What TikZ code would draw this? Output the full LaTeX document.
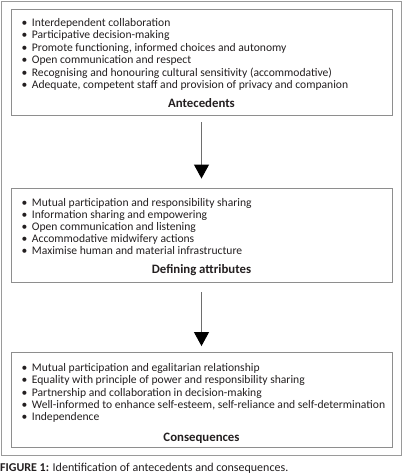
\documentclass[tikz,border=0pt]{standalone}
\usepackage{fontspec}
\setmainfont{Carlito}
\usetikzlibrary{arrows.meta}
\definecolor{framegray}{HTML}{9A9A9A}
\definecolor{boxgray}{HTML}{8E8E8E}
\definecolor{arrowgray}{HTML}{6E6E6E}
\definecolor{txt}{HTML}{231F20}
\begin{document}
\begin{tikzpicture}[x=1pt,y=-1pt,
  frame/.style={draw=framegray,line width=1pt},
  box/.style={draw=boxgray,line width=0.9pt,minimum width=381pt,inner sep=0pt},
  item/.style={anchor=base west,inner sep=0pt,text=txt,font=\fontsize{11.6}{13}\selectfont},
  head/.style={anchor=base,inner sep=0pt,text=txt,font=\fontsize{12.8}{14}\selectfont\bfseries},
  flow/.style={draw=arrowgray,line width=0.9pt,-{Triangle[width=15pt,length=14pt,color=black,fill=black]}}
]
\useasboundingbox (0,0) rectangle (403,476);
\draw[frame] (1.5,1.5) rectangle (401.5,455.5);
\node[box,minimum height=106pt] (b1) at (201.5,62) {};
\node[box,minimum height=94pt] (b2) at (201.5,235) {};
\node[box,minimum height=95pt] (b3) at (201.5,399.5) {};
% antecedents
\foreach \t [count=\i] in {Interdependent collaboration,Participative decision-making,{Promote functioning, informed choices and autonomy},Open communication and respect,Recognising and honouring cultural sensitivity (accommodative),{Adequate, competent staff and provision of privacy and companion}}
  \node[item] (a\i) at (21.5,{26.3+12.44*(\i-1)}) {\makebox[10.2pt][l]{•}\t};
\node[head] (ha) at (201.5,107.7) {Antecedents};
% defining attributes
\foreach \t [count=\i] in {Mutual participation and responsibility sharing,Information sharing and empowering,Open communication and listening,Accommodative midwifery actions,Maximise human and material infrastructure}
  \node[item] (d\i) at (21.5,{206+12.1*(\i-1)}) {\makebox[10.2pt][l]{•}\t};
\node[head] (hd) at (201.5,273.5) {Defining attributes};
% consequences
\foreach \t [count=\i] in {Mutual participation and egalitarian relationship,Equality with principle of power and responsibility sharing,Partnership and collaboration in decision-making,{Well-informed to enhance self-esteem, self-reliance and self-determination},Independence}
  \node[item] (c\i) at (21.5,{371.3+12.4*(\i-1)}) {\makebox[10.2pt][l]{•}\t};
\node[head] (hc) at (201.5,441) {Consequences};
% arrows
\draw[flow,shorten <=7pt,shorten >=9pt] (b1.south) -- (b2.north);
\draw[flow,shorten <=10pt,shorten >=5.5pt] (b2.south) -- (b3.north);
% caption
\node[anchor=base west,inner sep=0pt,text=txt,font=\fontsize{12}{14}\selectfont] (cap) at (0,471.5) {\textbf{FIGURE 1:} Identification of antecedents and consequences.};
\end{tikzpicture}
\end{document}
